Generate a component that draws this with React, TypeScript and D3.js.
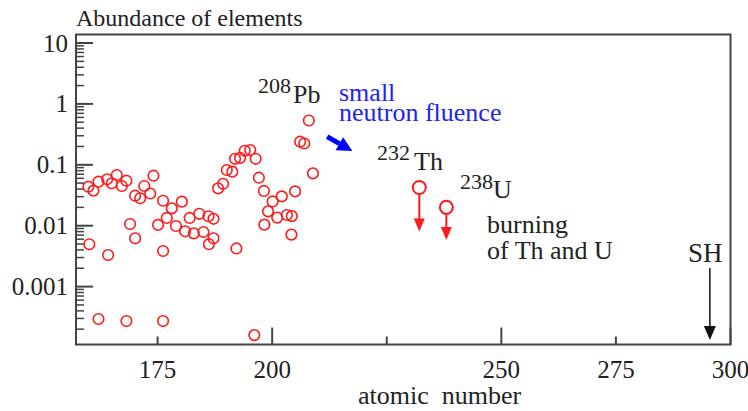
import React from "react";
import * as d3 from "d3";

// abundances (mass number, relative abundance)
const massNumbers = [
  159.9, 161.0, 162.1, 164.0, 165.0, 166.1, 167.2, 168.2, 170.1, 171.2,
  172.1, 173.4, 174.1, 176.2, 178.1, 180.3, 177.0, 175.1, 179.0, 169.0,
  170.1, 160.1, 164.2, 176.2, 181.0, 182.0, 184.1, 186.1, 187.2, 182.9,
  185.0, 187.2, 186.2, 192.2, 188.2, 189.3, 190.1, 191.3, 191.9, 193.0,
  194.0, 195.2, 196.4, 197.1, 198.2, 200.1, 202.1, 205.0, 206.1, 207.0,
  208.0, 208.9, 199.1, 201.1, 203.2, 204.3, 198.3, 204.2, 162.1, 168.2,
  176.2, 196.1,
];
const abundances = [
  0.0437, 0.0376, 0.0528, 0.0578, 0.0497, 0.068, 0.0449, 0.0548, 0.0311, 0.0282,
  0.0449, 0.0338, 0.0662, 0.0257, 0.0193, 0.0248, 0.0134, 0.0103, 0.00988, 0.01067,
  0.00621, 0.00495, 0.0033, 0.00384, 0.00809, 0.0134, 0.0157, 0.0143, 0.01298, 0.0075,
  0.00788, 0.00621, 0.00497, 0.00423, 0.0411, 0.0489, 0.0822, 0.0771, 0.1255, 0.13,
  0.17, 0.175, 0.1255, 0.0614, 0.0372, 0.025, 0.0303, 0.0366, 0.2395, 0.2238,
  0.534, 0.0725, 0.0172, 0.0136, 0.015, 0.0144, 0.0104, 0.00714, 0.000294, 0.000272,
  0.000272, 0.00016,
];

// Th and U, with the arrow showing where burning takes them
const actinideMass = [232.1, 238.0];
const actinideAbund = [0.0424, 0.02];
const actinideBurnt = [0.008, 0.0058];

const yTicks = [10, 1, 0.1, 0.01, 0.001];
const yTickLabels = ["10", "1", "0.1", "0.01", "0.001"];
const xTicks = [175, 200, 225, 250, 275, 300];
const xTickLabels = ["175", "200", "", "250", "275", "300"];

const W = 748;
const H = 411;
const left = 76;
const right = 730.5;
const top = 34.5;
const bottom = 344.5;

const serif = "Liberation Serif";
const ink = "#222";
const red = "#ff1a1a";

const x = d3.scaleLinear().domain([157.2, 300]).range([left, right]);
const y = d3.scaleLog().domain([1.12e-4, 13.8]).range([bottom, top]);

const minorY: number[] = [];
for (let e = -4; e <= 1; e++) {
  for (let m = 2; m <= 9; m++) {
    const v = m * Math.pow(10, e);
    if (v > 1.12e-4 && v < 13.8) minorY.push(v);
  }
}

const arrowDown = (cx: number, y0: number, y1: number, color: string, sw: number, hw: number, hl: number) => (
  <g>
    <line x1={cx} x2={cx} y1={y0} y2={y1 - hl + 1} stroke={color} strokeWidth={sw} />
    <path d={`M${cx - hw / 2},${y1 - hl}L${cx + hw / 2},${y1 - hl}L${cx},${y1}Z`} fill={color} />
  </g>
);

const Label = (p: { x: number; y: number; size: number; fill?: string; anchor?: string; children: any }) => (
  <text x={p.x} y={p.y} fontSize={p.size} fill={p.fill || ink} textAnchor={p.anchor || "start"}
    fontFamily={serif} style={{ whiteSpace: "pre" }}>{p.children}</text>
);

const App = () => {
  // blue arrow, "small neutron fluence"
  const bx0 = x(212), by0 = y(0.29);
  const bx1 = x(217.5), by1 = y(0.168);
  const ang = Math.atan2(by1 - by0, bx1 - bx0);
  const hl = 15, hw = 15;
  const baseX = bx1 - hl * Math.cos(ang), baseY = by1 - hl * Math.sin(ang);
  const px = -Math.sin(ang) * hw / 2, py = Math.cos(ang) * hw / 2;

  return (
    <svg width={W} height={H} style={{ position: "absolute", left: 0, top: 0, background: "#fff" }}>
      <Label x={76} y={26} size={24}>Abundance of elements</Label>

      {/* y ticks */}
      {yTicks.map((t) => (
        <line key={"ym" + t} x1={left} x2={left + 17} y1={y(t)} y2={y(t)} stroke="#444" strokeWidth={2} />
      ))}
      {minorY.map((t) => (
        <line key={"yn" + t} x1={left} x2={left + 8} y1={y(t)} y2={y(t)} stroke="#444" strokeWidth={1.5} />
      ))}
      {yTicks.map((t, i) => (
        <Label key={"yl" + t} x={68} y={y(t) + 8.5} anchor="end" size={25}>{yTickLabels[i]}</Label>
      ))}

      {/* x ticks */}
      {xTicks.map((t) => (
        <line key={"xt" + t} x1={x(t)} x2={x(t)} y1={bottom} y2={bottom - (t % 50 === 0 ? 17 : 8)} stroke="#444" strokeWidth={2} />
      ))}
      {xTicks.map((t, i) => (
        <Label key={"xl" + t} x={x(t)} y={378} anchor="middle" size={25}>{xTickLabels[i]}</Label>
      ))}
      <Label x={358} y={404} size={26}>{"atomic  number"}</Label>

      <rect x={left} y={top} width={right - left} height={bottom - top} fill="none" stroke="#444" strokeWidth={2} />

      {/* points */}
      {massNumbers.map((m, i) => (
        <circle key={i} cx={x(m)} cy={y(abundances[i])} r={5.3} fill="none" stroke={red} strokeWidth={1.6} />
      ))}

      {actinideMass.map((m, i) => (
        <g key={"a" + i}>
          {arrowDown(x(m), y(actinideAbund[i]) + 6.5, y(actinideBurnt[i]), red, 2, 11, 13)}
          <circle cx={x(m)} cy={y(actinideAbund[i])} r={6.5} fill="#fff" stroke={red} strokeWidth={2} />
        </g>
      ))}

      {/* blue arrow */}
      <line x1={bx0} y1={by0} x2={baseX} y2={baseY} stroke="#0000ff" strokeWidth={5} />
      <path d={`M${baseX + px},${baseY + py}L${baseX - px},${baseY - py}L${bx1},${by1}Z`} fill="#0000ff" />

      {/* SH arrow */}
      {arrowDown(x(295.5), 268, 340, "#111", 1.5, 12, 14)}

      <Label x={258} y={93} size={22}>208</Label>
      <Label x={293} y={103} size={26}>Pb</Label>
      <Label x={339} y={101} size={26} fill="#2222ee">small</Label>
      <Label x={339} y={121} size={26} fill="#2222ee">neutron fluence</Label>
      <Label x={377} y={160} size={22}>232</Label>
      <Label x={414} y={170} size={26}>Th</Label>
      <Label x={460} y={189} size={22}>238</Label>
      <Label x={493} y={198} size={26}>U</Label>
      <Label x={487} y={233} size={26}>burning</Label>
      <Label x={487} y={259} size={26}>of Th and U</Label>
      <Label x={688} y={262} size={27}>SH</Label>
    </svg>
  );
};

export default App;
